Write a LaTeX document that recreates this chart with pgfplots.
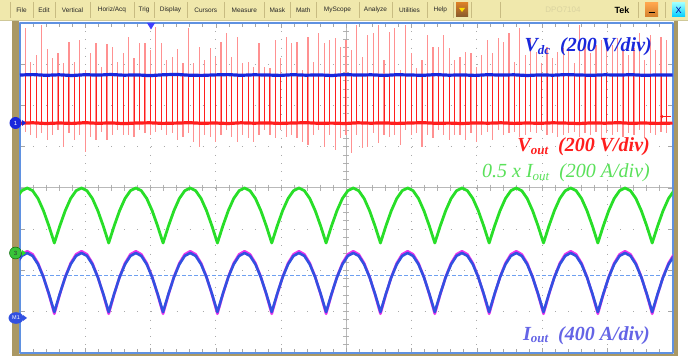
\documentclass[border=0pt]{standalone}
\usepackage{fontspec}
\setmainfont{Liberation Serif}
\newfontfamily\sansf{Liberation Sans}
\usepackage{pgfplots}
\pgfplotsset{compat=1.18}
\usepackage{pgfplotstable}
\usetikzlibrary{arrows.meta}

\definecolor{vdcblue}{RGB}{25,40,220}
\definecolor{voutred}{RGB}{255,30,30}
\definecolor{spikered}{RGB}{255,145,145}
\definecolor{grn}{RGB}{40,222,40}
\definecolor{ioutblue}{RGB}{50,80,225}
\definecolor{magn}{RGB}{235,50,235}
\definecolor{frameblue}{RGB}{95,145,225}
\definecolor{tanc}{RGB}{170,152,100}
\definecolor{barbg}{RGB}{240,232,172}
\definecolor{barsep}{RGB}{200,188,130}
\definecolor{gridc}{RGB}{170,170,170}
\definecolor{lblgreen}{RGB}{90,225,90}
\definecolor{lbliout}{RGB}{100,100,230}
\definecolor{dashblue}{RGB}{110,160,240}

\newcommand\sub[1]{\raisebox{-0.32ex}{\fontsize{13}{13}\selectfont #1}}

\pgfplotstableread{
x top bot
25.43 28 131.7
30.87 62 135
36.30 55 138.3
41.73 25 133.3
47.17 49 140
52.60 58 135
58.03 53 130
63.46 63 146.7
68.90 42 133.3
74.33 62 140
79.76 40 135
85.20 70 151.7
90.63 53 136.7
96.06 43 140
101.50 67 131.7
106.93 44 140
112.36 47 135
117.79 62 130
123.23 53 135
128.66 37 135
134.09 58 136.7
139.53 43 130
144.96 43 133.3
150.39 50 135
155.83 27 131.7
161.26 43 130
166.69 60 135
172.12 57 133.3
177.56 49 140
182.99 63 136.7
188.42 28 133.3
193.86 63 141.7
199.29 47 146.7
204.72 60 135
210.16 48 136.7
215.59 57 141.7
221.02 42 135
226.45 33 130
231.89 57 136.7
237.32 37 141.7
242.75 63 135
248.19 62 138.3
253.62 67 141.7
259.05 43 135
264.49 67 130
269.92 68 135
275.35 40 138.3
280.78 58 130
286.22 37 136.7
291.65 43 135
297.08 42 138.3
302.52 70 141.7
307.95 37 145
313.38 62 135
318.82 33 130
324.25 43 146.7
329.68 40 135
335.11 38 150
340.55 47 138.3
345.98 40 135
351.41 50 153.3
356.85 25 135
362.28 57 148.3
367.71 35 146.7
373.15 33 133.3
378.58 25 143.3
384.01 60 135
389.44 32 136.7
394.88 28 135
400.31 70 145
405.74 25 130
411.18 53 135
416.61 68 133.3
422.04 60 146.7
427.48 35 135
432.91 47 138.3
438.34 47 130
443.77 35 135
449.21 48 140
454.64 60 135
460.07 57 135
465.51 52 140
470.94 53 133.3
476.37 67 141.7
481.81 55 135
487.24 40 131.7
492.67 53 140
498.10 38 130
503.54 42 135
508.97 33 133.3
514.40 62 131.7
519.84 28 136.7
525.27 55 135
530.70 38 131.7
536.14 52 133.3
541.57 63 130
547.00 47 135
552.43 58 133.3
557.87 52 136.7
563.30 48 135
568.73 47 133.3
574.17 63 131.7
579.60 25 136.7
585.03 42 133.3
590.47 53 135
595.90 45 131.7
601.33 40 140
606.76 47 133.3
612.20 45 135
617.63 38 131.7
623.06 50 136.7
628.50 55 133.3
633.93 48 135
639.36 33 130
644.80 60 138.3
650.23 35 133.3
655.66 50 135
661.09 37 131.7
666.53 40 133.3
}\spikes

\pgfplotstableread{
x g b
16.31 198.5 264.3
21.74 190.7 255.9
27.18 188 253
32.61 190.7 255.9
38.05 198.5 264.3
43.48 210.7 277.3
48.92 226.0 293.8
54.35 243 312
59.79 226.0 293.8
65.22 210.7 277.3
70.66 198.5 264.3
76.09 190.7 255.9
81.53 188 253
86.96 190.7 255.9
92.40 198.5 264.3
97.83 210.7 277.3
103.27 226.0 293.8
108.70 243 312
114.14 226.0 293.8
119.57 210.7 277.3
125.01 198.5 264.3
130.44 190.7 255.9
135.88 188 253
141.31 190.7 255.9
146.75 198.5 264.3
152.18 210.7 277.3
157.62 226.0 293.8
163.05 243 312
168.49 226.0 293.8
173.92 210.7 277.3
179.36 198.5 264.3
184.79 190.7 255.9
190.23 188 253
195.66 190.7 255.9
201.10 198.5 264.3
206.53 210.7 277.3
211.97 226.0 293.8
217.40 243 312
222.84 226.0 293.8
228.27 210.7 277.3
233.71 198.5 264.3
239.14 190.7 255.9
244.58 188 253
250.01 190.7 255.9
255.45 198.5 264.3
260.88 210.7 277.3
266.32 226.0 293.8
271.75 243 312
277.19 226.0 293.8
282.62 210.7 277.3
288.06 198.5 264.3
293.49 190.7 255.9
298.93 188 253
304.36 190.7 255.9
309.80 198.5 264.3
315.23 210.7 277.3
320.67 226.0 293.8
326.10 243 312
331.54 226.0 293.8
336.97 210.7 277.3
342.41 198.5 264.3
347.84 190.7 255.9
353.28 188 253
358.71 190.7 255.9
364.15 198.5 264.3
369.58 210.7 277.3
375.02 226.0 293.8
380.45 243 312
385.89 226.0 293.8
391.32 210.7 277.3
396.76 198.5 264.3
402.19 190.7 255.9
407.63 188 253
413.06 190.7 255.9
418.50 198.5 264.3
423.93 210.7 277.3
429.37 226.0 293.8
434.80 243 312
440.24 226.0 293.8
445.67 210.7 277.3
451.11 198.5 264.3
456.54 190.7 255.9
461.98 188 253
467.41 190.7 255.9
472.85 198.5 264.3
478.28 210.7 277.3
483.72 226.0 293.8
489.15 243 312
494.59 226.0 293.8
500.02 210.7 277.3
505.46 198.5 264.3
510.89 190.7 255.9
516.33 188 253
521.76 190.7 255.9
527.20 198.5 264.3
532.63 210.7 277.3
538.07 226.0 293.8
543.50 243 312
548.94 226.0 293.8
554.37 210.7 277.3
559.81 198.5 264.3
565.24 190.7 255.9
570.68 188 253
576.11 190.7 255.9
581.55 198.5 264.3
586.98 210.7 277.3
592.42 226.0 293.8
597.85 243 312
603.29 226.0 293.8
608.72 210.7 277.3
614.16 198.5 264.3
619.59 190.7 255.9
625.03 188 253
630.46 190.7 255.9
635.90 198.5 264.3
641.33 210.7 277.3
646.77 226.0 293.8
652.20 243 312
657.64 226.0 293.8
663.07 210.7 277.3
668.51 198.5 264.3
673.94 190.7 255.9
}\waves

\begin{document}
\begin{tikzpicture}
\useasboundingbox (0,0) rectangle (688pt,356pt);
\fill[white] (0,0) rectangle (688pt,356pt);
% background crosshair with ticks
\begin{scope}[shift={(0,356pt)}, x=1pt, y=-1pt]
  \draw[gray!55, line width=0.6pt] (346.25,23) -- (346.25,352.5);
  \draw[gray!55, line width=0.6pt] (20,187.75) -- (672.5,187.75);
  \foreach \i in {1,...,39} {
    \pgfmathsetmacro\yy{23+8.2375*\i}
    \draw[gray!60, line width=0.5pt] (343.25,\yy) -- (349.25,\yy);
  }
  \foreach \i in {1,...,49} {
    \pgfmathsetmacro\xx{20+13.05*\i}
    \draw[gray!60, line width=0.5pt] (\xx,184.75) -- (\xx,190.75);
  }
\end{scope}

\begin{axis}[
  at={(20pt,3.5pt)}, anchor=south west, scale only axis,
  width=652.5pt, height=329.5pt,
  xmin=20, xmax=672.5, ymin=23, ymax=352.5, y dir=reverse,
  xtick={20,85.25,150.5,215.75,281,346.25,411.5,476.75,542,607.25,672.5},
  ytick={23,64.19,105.38,146.56,187.75,228.94,270.13,311.31,352.5},
  minor x tick num=4, minor y tick num=4,
  xticklabels={}, yticklabels={},
  tick align=inside, major tick length=5pt, minor tick length=4pt,
  every tick/.style={gray!70, line width=0.5pt},
  grid=major,
  major x grid style={gridc, line width=0.8pt, dash pattern=on 0.8pt off 7.44pt},
  major y grid style={gridc, line width=0.8pt, dash pattern=on 0.8pt off 12.25pt},
  axis line style={frameblue, line width=2pt},
  line join=round,
]
% faint overshoot spikes
\addplot[draw=none, mark=none, forget plot,
  error bars/.cd, y dir=both, y explicit, error mark=none,
  error bar style={draw=spikered, solid, line width=1.2pt}]
  table[x=x, y expr=123, y error plus expr=\thisrow{bot}-123, y error minus expr=123-\thisrow{top}] {\spikes};
% saturated pulse part
\addplot[draw=none, mark=none, forget plot,
  error bars/.cd, y dir=minus, y explicit, error mark=none,
  error bar style={draw=voutred, solid, line width=1pt}]
  table[x=x, y expr=123, y error minus expr=47] {\spikes};
% Vdc
\addplot[vdcblue, line width=3.2pt] coordinates {
(20,75.0) (33,74.6) (46,75.3) (59,74.8) (72,75.5) (85,74.7) (98,75.1) (111,74.5) (124,75.2) (137,74.9)
(150,75.6) (163,74.8) (176,74.4) (189,75.2) (202,75.4) (215,74.9) (228,74.6) (241,75.3) (254,74.8) (267,75.0)
(280,75.4) (293,74.7) (306,75.2) (319,74.9) (332,75.5) (345,74.6) (358,75.1) (371,74.8) (384,75.4) (397,74.7)
(410,75.0) (423,75.3) (436,74.6) (449,75.2) (462,74.9) (475,75.4) (488,74.7) (501,75.1) (514,74.8) (527,75.5)
(540,74.9) (553,75.2) (566,74.6) (579,75.0) (592,75.3) (605,74.8) (618,75.1) (631,74.7) (644,75.3) (657,75.0) (672.5,74.9)};
% Vout baseline
\addplot[voutred, line width=3.2pt] coordinates {
(20,123.2) (33,122.8) (46,123.5) (59,123.0) (72,123.4) (85,122.7) (98,123.3) (111,122.9) (124,123.6) (137,123.0)
(150,122.8) (163,123.4) (176,123.1) (189,122.7) (202,123.3) (215,123.0) (228,123.5) (241,122.8) (254,123.2) (267,122.9)
(280,123.4) (293,123.0) (306,122.7) (319,123.3) (332,123.1) (345,123.5) (358,122.8) (371,123.2) (384,122.9) (397,123.4)
(410,123.0) (423,122.7) (436,123.3) (449,123.1) (462,123.5) (475,122.9) (488,123.2) (501,122.8) (514,123.4) (527,123.0)
(540,123.3) (553,122.8) (566,123.1) (579,123.5) (592,122.9) (605,123.2) (618,122.7) (631,123.3) (644,123.0) (657,123.4) (672.5,123.1)};
% green 0.5 x Iout
\addplot[grn, line width=2.8pt] table[x=x, y=g] {\waves};
% dashed reference
\addplot[dashblue, line width=1pt, dash pattern=on 4pt off 2pt] coordinates {(20,275) (672.5,275)};
% Iout (magenta underlay + blue)
\addplot[magn, line width=2.6pt] table[x=x, y expr={282.5+1.06*(\thisrow{b}-282.5)}] {\waves};
\addplot[ioutblue, line width=2.6pt] table[x=x, y=b] {\waves};
\end{axis}

\begin{scope}[shift={(0,356pt)}, x=1pt, y=-1pt]
  % frame strips
  \fill[tanc] (12,21) rectangle (19,356);
  \fill[tanc] (674,21) rectangle (678,356);
  \fill[tanc] (12,354) rectangle (678,356);
  % menu bar
  \fill[barbg] (0,0) rectangle (688,20);
  \fill[barbg!85!black!95] (0,20) rectangle (688,21.5);
  \foreach \x in {10,33,55,90,134,154,187,224.6,264,290.6,316,359,392,427,453.5,471,500,638.5,665}
    \draw[barsep, line width=0.6pt] (\x,2) -- (\x,18);
  \foreach \x/\t in {21.5/File,44/Edit,72.5/Vertical,112/{Horiz/Acq},144/Trig,170.5/Display,205.8/Cursors,244.3/Measure,277.3/Mask,303.3/Math,337.5/MyScope,375.5/Analyze,409.5/Utilities,440.3/Help}
    \node[font=\sansf\fontsize{6.5}{6.5}\selectfont, text=black!85, inner sep=0pt] at (\x,10) {\t};
  \shade[top color=brown!60!orange, bottom color=brown!70!black] (456,3) rectangle (468,17);
  \fill[yellow!80!orange] (459,8) -- (465,8) -- (462,12) -- cycle;
  \node[font=\sansf\fontsize{8}{8}\selectfont, text=barbg!90!black!95, inner sep=0pt] at (563,10) {DPO7104};
  \node[font=\sansf\bfseries\fontsize{9}{9}\selectfont, inner sep=0pt] at (622,10) {Tek};
  \shade[top color=orange!70, bottom color=brown!70!orange] (645,3) rectangle (658,17);
  \draw[black, line width=1pt] (648.5,13) -- (654.5,13);
  \shade[top color=cyan!40, bottom color=cyan!80!blue] (672,3) rectangle (685,17);
  \node[font=\sansf\fontsize{9}{9}\selectfont, text=blue!60!black, inner sep=0pt] at (678.5,10) {X};
  % trigger position marker
  \fill[blue!75] (147,23) -- (155,23) -- (151,29.5) -- cycle;
  % trigger level arrow
  \draw[voutred, line width=0.6pt, -{Stealth[length=3pt,width=3pt]}] (671,116.5) -- (660,116.5);
  % channel markers
  \fill[vdcblue] (22,120) -- (26,123) -- (22,126) -- cycle;
  \fill[vdcblue] (15.5,123) circle (6);
  \node[font=\sansf\fontsize{6}{6}\selectfont, text=white, inner sep=0pt] at (15.5,123) {1};
  \fill[grn] (22,250) -- (26,253) -- (22,256) -- cycle;
  \filldraw[fill=grn!85!black!90, draw=green!40!black, line width=0.4pt] (15.5,253) circle (6);
  \node[font=\sansf\fontsize{6}{6}\selectfont, text=black!80, inner sep=0pt] at (15.5,253) {3};
  \fill[ioutblue] (23,315) -- (27,318) -- (23,321) -- cycle;
  \fill[ioutblue] (16,318) ellipse (7.5 and 5.8);
  \node[font=\sansf\fontsize{5.5}{5.5}\selectfont, text=white, inner sep=0pt] at (16,318) {M1};
  % labels
  \node[anchor=base east, inner sep=0pt, text=vdcblue, font=\fontsize{20}{20}\selectfont\bfseries\itshape] at (652,52) {V\sub{dc}\ \ (200 V/div)};
  \node[anchor=base east, inner sep=0pt, text=voutred, font=\fontsize{20}{20}\selectfont\bfseries\itshape] at (650,152) {V\sub{out}\ \ (200 V/div)};
  \node[anchor=base east, inner sep=0pt, text=lblgreen, font=\fontsize{20}{20}\selectfont\itshape] at (650,178) {0.5 x I\sub{out}\ \ (200 A/div)};
  \node[anchor=base east, inner sep=0pt, text=lbliout, font=\fontsize{20}{20}\selectfont\bfseries\itshape] at (650,340) {I\sub{out}\ \ (400 A/div)};
\end{scope}
\end{tikzpicture}
\end{document}
